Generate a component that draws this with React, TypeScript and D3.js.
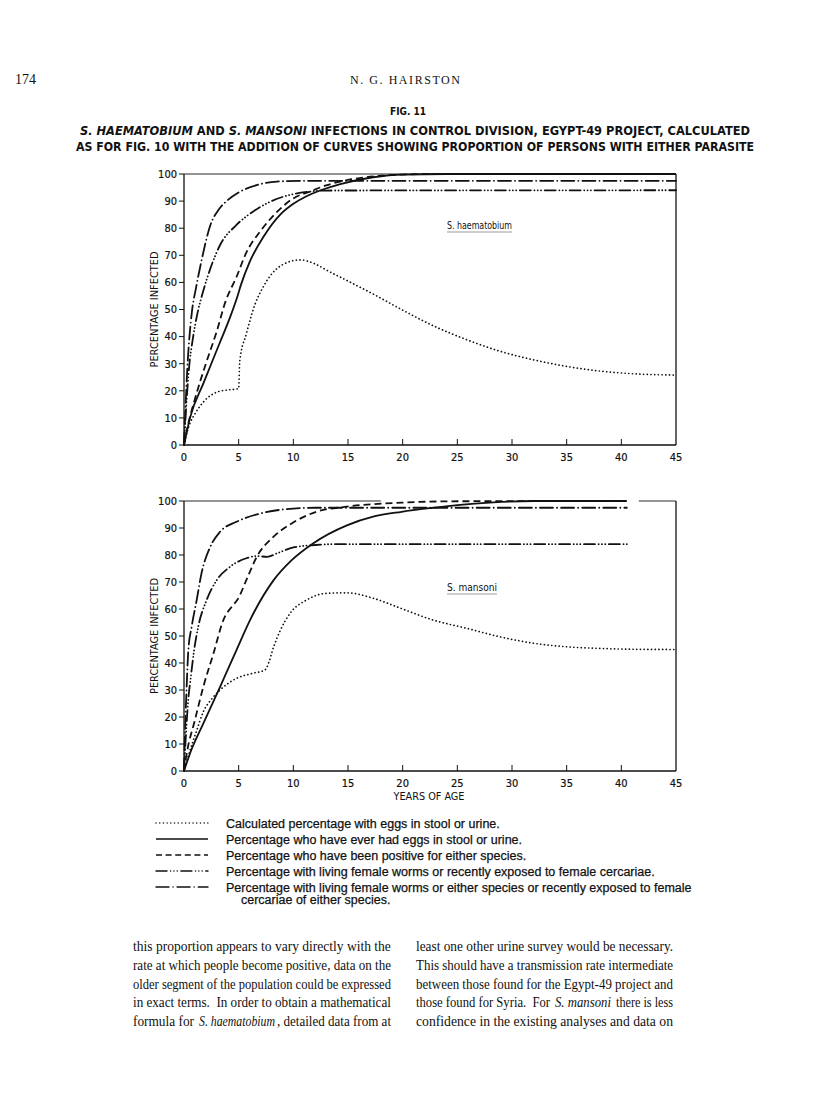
import React, { useLayoutEffect, useRef, useState } from 'react';
import * as d3 from 'd3';

type Pt = [number, number];

// ---------- tick labels ----------
const xTicks = [0, 5, 10, 15, 20, 25, 30, 35, 40, 45];
const yTicks = [0, 10, 20, 30, 40, 50, 60, 70, 80, 90, 100];

// ---------- S. haematobium (top panel) ----------
const haemEggsNow: Pt[] = [
  [0, 0], [0.3, 5], [0.6, 8.5], [1, 11.5], [1.8, 16], [3, 19.5], [4, 20.3], [5, 20.8],
  [5.1, 31], [5.7, 41], [6.5, 52], [7.2, 58], [7.9, 62.5], [9, 66.5], [10.6, 68.3],
  [12, 66.8], [13, 64.6], [15, 60.5], [17.3, 55.7], [19.8, 50.2], [22.8, 44],
  [25.9, 38.8], [28.9, 34.6], [32, 31.4], [35, 29], [38, 27.3], [41, 26.3], [45, 25.8],
];
const haemEverEggs: Pt[] = [
  [0, 0], [0.55, 10], [1.8, 23], [3.3, 38], [4.2, 47], [4.9, 55], [5.2, 59], [6, 67.5],
  [7.3, 77], [8.8, 85], [10, 89], [11.2, 91.8], [12.5, 94], [14.3, 96.3], [17.3, 98.8],
  [20, 99.8], [24, 100], [45, 100],
];
const haemEitherPositive: Pt[] = [
  [0, 0], [0.4, 8], [1, 17], [2, 30], [3, 42], [3.8, 53], [4.8, 62], [5.7, 71], [7, 79],
  [8.5, 86], [10, 91], [11.5, 93.5], [13, 95.8], [15, 97.8], [17, 99], [20, 99.8],
  [23, 100], [45, 100],
];
const haemLivingWorms: Pt[] = [
  [0, 0], [0.2, 14], [0.45, 28], [0.8, 39], [1.2, 48], [1.7, 56], [2.4, 65], [3.3, 73.8],
  [4.8, 81.2], [6.3, 86.1], [7.9, 89.8], [9.7, 92.3], [11.5, 93.5], [13, 93.9], [45, 94],
];
const haemLivingEither: Pt[] = [
  [0, 0], [0.15, 15], [0.3, 28], [0.5, 40], [0.75, 50], [1.1, 58], [1.6, 68], [2.4, 81],
  [3.2, 87], [3.9, 90], [5, 93.2], [6.65, 95.9], [8.5, 97.2], [11, 97.5], [45, 97.5],
];

// ---------- S. mansoni (bottom panel) ----------
const manEggsNow: Pt[] = [
  [0, 0], [0.5, 7], [1.16, 15], [1.77, 22], [2.5, 26.5], [3.3, 30], [4.8, 34.3],
  [6.3, 36.2], [7.4, 37.4], [7.6, 38.6], [8.2, 46], [8.8, 52], [9.7, 58.4], [11.2, 63.3],
  [13, 65.8], [14.9, 66], [17.3, 64], [19.8, 60.3], [22.8, 55.9], [25.9, 52.8],
  [28.9, 49.7], [32, 47.3], [35, 46], [38, 45.4], [41, 45.1], [45, 45],
];
const manEverEggs: Pt[] = [
  [0, 0], [0.55, 6.5], [1.77, 17.6], [3.3, 31.2], [4.8, 44.8], [6.04, 55.9], [8.2, 70.7],
  [9.85, 78.1], [11.8, 84.3], [14.9, 91], [17.3, 94.2], [19.9, 96], [22.8, 97.5],
  [25, 98.5], [28.3, 99.5], [32, 100], [40.5, 100],
];
const manEitherPositive: Pt[] = [
  [0, 0], [0.25, 6.5], [1, 18.9], [1.77, 31.2], [2.7, 43.6], [3.6, 55.9], [4.5, 61.5],
  [4.9, 63.5], [5.7, 70.7], [6.65, 79.3], [8.2, 86.8], [9.85, 91.7], [12.1, 96],
  [14.9, 97.9], [19.9, 99.4], [25, 99.9], [40.5, 100],
];
const manLivingWorms: Pt[] = [
  [0, 0], [0.2, 15], [0.4, 27], [0.6, 34], [0.9, 44], [1.3, 53.4], [2.07, 63.3], [3, 70.7],
  [4.2, 75.6], [5.7, 78.8], [6.65, 79.6], [7.6, 79.3], [8.5, 80.6], [10, 82.8], [12, 83.7],
  [13.5, 84], [40.5, 84],
];
const manLivingEither: Pt[] = [
  [0, 0], [0.1, 15], [0.25, 32], [0.4, 45], [0.7, 53.4], [1.16, 63.3], [1.6, 73.2],
  [2.4, 83], [3.3, 88.6], [4.8, 92.3], [7, 95.4], [9.4, 97], [12, 97.5], [40.5, 97.5],
];

// ---------- legend ----------
const legendLabels = [
  'Calculated percentage with eggs in stool or urine.',
  'Percentage who have ever had eggs in stool or urine.',
  'Percentage who have been positive for either species.',
  'Percentage with living female worms or recently exposed to female cercariae.',
  'Percentage with living female worms or either species or recently exposed to female',
];
const legendContinuation = 'cercariae of either species.';

// ---------- body text ----------
const leftColumn = [
  'this proportion appears to vary directly with the',
  'rate at which people become positive, data on the',
  'older segment of the population could be expressed',
  'in exact terms.  In order to obtain a mathematical',
];
const leftLast = ['formula for', 'S. haematobium', ', detailed data from at'];
const rightColumn = [
  'least one other urine survey would be necessary.',
  'This should have a transmission rate intermediate',
  'between those found for the Egypt-49 project and',
  '',
  'confidence in the existing analyses and data on',
];
const rightFourth = ['those found for Syria.  For', 'S. mansoni', 'there is less'];

const NARROW = '"Liberation Sans Narrow", "DejaVu Sans Condensed", "Arial Narrow", sans-serif';
const SANS = '"Liberation Sans", Arial, Helvetica, sans-serif';
const SERIF = '"Liberation Serif", "Times New Roman", Times, serif';
const INK = '#111';

const styles: { dash: string; cap: 'round' | 'butt' }[] = [
  { dash: '0.1 3.6', cap: 'round' }, // dotted
  { dash: '', cap: 'butt' }, // solid
  { dash: '7 4', cap: 'butt' }, // dashed
  { dash: '11 3.6 0.1 3.2 0.1 3.2 0.1 3.6', cap: 'round' }, // dash-dot-dot
  { dash: '13 4 0.1 4', cap: 'round' }, // dash-dot
];

const x = d3.scaleLinear().domain([0, 45]).range([184, 676]);

// Serif text squeezed horizontally (by transform) to fill a given width
function FitText(props: { x: number; y: number; width: number; italic?: boolean; children: React.ReactNode }) {
  const ref = useRef<SVGTextElement>(null);
  const [s, setS] = useState(0.82);
  useLayoutEffect(() => {
    if (ref.current) {
      const w = ref.current.getComputedTextLength();
      if (w > 0) setS(props.width / w);
    }
  }, [props.width]);
  return (
    <text ref={ref} transform={`translate(${props.x},${props.y}) scale(${s},1)`} x={0} y={0}
      fontFamily={SERIF} fontSize={15} fontStyle={props.italic ? 'italic' : 'normal'} fill={INK}
      style={{ whiteSpace: 'pre' }}>{props.children}</text>
  );
}

function Panel(props: {
  y0: number; y1: number; series: Pt[][]; topSegs: [number, number][];
  species: string; spX: number; spY: number; spW: number; showXTitle: boolean;
}) {
  const { y0, y1, series, topSegs, species, spX, spY, spW, showXTitle } = props;
  const y = d3.scaleLinear().domain([0, 100]).range([y0, y1]);
  const line = d3.line<Pt>().x(d => x(d[0])).y(d => y(d[1])).curve(d3.curveMonotoneX);
  const mid = (y0 + y1) / 2;
  return (
    <g>
      {/* frame */}
      <line x1={x(0)} x2={x(0)} y1={y(0)} y2={y(100)} stroke={INK} strokeWidth={1.3} />
      <line x1={x(0)} x2={x(45)} y1={y(0)} y2={y(0)} stroke={INK} strokeWidth={1.3} />
      <line x1={x(45)} x2={x(45)} y1={y(0)} y2={y(100)} stroke={INK} strokeWidth={1.3} />
      {topSegs.map((s, i) => (
        <line key={i} x1={x(s[0])} x2={x(s[1])} y1={y(100)} y2={y(100)} stroke={INK} strokeWidth={0.9} />
      ))}
      {/* y ticks */}
      {yTicks.map(t => (
        <g key={t}>
          <line x1={x(0) - 5} x2={x(0)} y1={y(t)} y2={y(t)} stroke={INK} strokeWidth={1} />
          <text x={x(0) - 7} y={y(t) + 3.8} textAnchor="end" fontFamily={NARROW} fontSize={11} fill={INK}
            stroke={INK} strokeWidth={0.2}>{t}</text>
        </g>
      ))}
      {/* x ticks */}
      {xTicks.map(t => (
        <g key={t}>
          {t > 0 && t < 45 && <line x1={x(t)} x2={x(t)} y1={y(0)} y2={y(0) - 6} stroke={INK} strokeWidth={1} />}
          <text x={x(t)} y={y(0) + 16} textAnchor="middle" fontFamily={NARROW} fontSize={11} fill={INK}
            stroke={INK} strokeWidth={0.2}>{t}</text>
        </g>
      ))}
      <text transform={`translate(158,${mid}) rotate(-90)`} textAnchor="middle" fontFamily={NARROW}
        fontSize={11} fill={INK} textLength={116} lengthAdjust="spacingAndGlyphs">PERCENTAGE INFECTED</text>
      {showXTitle && (
        <text x={429} y={y(0) + 29} textAnchor="middle" fontFamily={NARROW} fontSize={11} fill={INK}
          textLength={71} lengthAdjust="spacingAndGlyphs">YEARS OF AGE</text>
      )}
      {/* species label */}
      <text x={spX} y={spY} fontFamily={NARROW} fontSize={11} fill={INK} textLength={spW}
        lengthAdjust="spacingAndGlyphs">{species}</text>
      <line x1={spX} x2={spX + spW} y1={spY + 3} y2={spY + 3} stroke={INK} strokeWidth={0.6} opacity={0.7} />
      {/* curves */}
      {series.map((s, i) => (
        <path key={i} d={line(s) || ''} fill="none" stroke={INK} strokeWidth={i === 0 ? 1.7 : 1.8}
          strokeDasharray={styles[i].dash || undefined} strokeLinecap={styles[i].cap} />
      ))}
    </g>
  );
}

export default function App() {
  const bodyY = (i: number) => 951 + i * 18.8;
  return (
    <svg width={816} height={1094} style={{ position: 'absolute', left: 0, top: 0, background: '#fff' }}>
      <rect x={0} y={0} width={816} height={1094} fill="#fff" />
      {/* running head */}
      <text x={15} y={84} fontFamily={SERIF} fontSize={14} fill={INK}>174</text>
      <text x={405} y={84} textAnchor="middle" fontFamily={SERIF} fontSize={12} fill={INK}
        textLength={110} lengthAdjust="spacing">N. G. HAIRSTON</text>
      {/* figure title */}
      <text x={408} y={115} textAnchor="middle" fontFamily={NARROW} fontWeight="bold" fontSize={11} fill={INK}
        textLength={36} lengthAdjust="spacingAndGlyphs">FIG. 11</text>
      <text x={415} y={135} textAnchor="middle" fontFamily={NARROW} fontWeight="bold" fontSize={11.5} fill={INK}
        textLength={670} lengthAdjust="spacingAndGlyphs">
        <tspan fontStyle="italic">S. HAEMATOBIUM</tspan> AND <tspan fontStyle="italic">S. MANSONI</tspan> INFECTIONS IN CONTROL DIVISION, EGYPT-49 PROJECT, CALCULATED
      </text>
      <text x={415} y={150.5} textAnchor="middle" fontFamily={NARROW} fontWeight="bold" fontSize={11.5} fill={INK}
        textLength={678} lengthAdjust="spacingAndGlyphs">
        AS FOR FIG. 10 WITH THE ADDITION OF CURVES SHOWING PROPORTION OF PERSONS WITH EITHER PARASITE
      </text>

      <Panel y0={445} y1={174}
        series={[haemEggsNow, haemEverEggs, haemEitherPositive, haemLivingWorms, haemLivingEither]}
        topSegs={[[0, 45]]} species="S. haematobium" spX={447} spY={229} spW={65} showXTitle={false} />
      <Panel y0={771} y1={501}
        series={[manEggsNow, manEverEggs, manEitherPositive, manLivingWorms, manLivingEither]}
        topSegs={[[0, 18], [41.6, 45]]} species="S. mansoni" spX={447} spY={591} spW={50} showXTitle={true} />

      {/* legend */}
      {legendLabels.map((lab, i) => {
        const yy = 823 + i * 16;
        return (
          <g key={i}>
            <line x1={156} x2={208} y1={yy} y2={yy} stroke={INK} strokeWidth={1.4}
              strokeDasharray={i === 2 ? '6 3.6' : (styles[i].dash || undefined)} strokeLinecap={styles[i].cap} />
            <text x={226} y={yy + 4.5} fontFamily={SANS} fontSize={12.5} fill={INK} stroke={INK} strokeWidth={0.25}>{lab}</text>
          </g>
        );
      })}
      <text x={241} y={904} fontFamily={SANS} fontSize={12.5} fill={INK} stroke={INK} strokeWidth={0.25}>{legendContinuation}</text>

      {/* body text */}
      {leftColumn.map((t, i) => (
        <FitText key={'l' + i} x={133} y={bodyY(i)} width={258}>{t}</FitText>
      ))}
      <FitText x={133} y={bodyY(4)} width={61}>{leftLast[0]}</FitText>
      <FitText x={199} y={bodyY(4)} width={76} italic>{leftLast[1]}</FitText>
      <FitText x={277} y={bodyY(4)} width={114}>{leftLast[2]}</FitText>
      {rightColumn.map((t, i) => (
        t ? <FitText key={'r' + i} x={416} y={bodyY(i)} width={257}>{t}</FitText> : null
      ))}
      <FitText x={416} y={bodyY(3)} width={134}>{rightFourth[0]}</FitText>
      <FitText x={555} y={bodyY(3)} width={56} italic>{rightFourth[1]}</FitText>
      <FitText x={616} y={bodyY(3)} width={57}>{rightFourth[2]}</FitText>
    </svg>
  );
}
